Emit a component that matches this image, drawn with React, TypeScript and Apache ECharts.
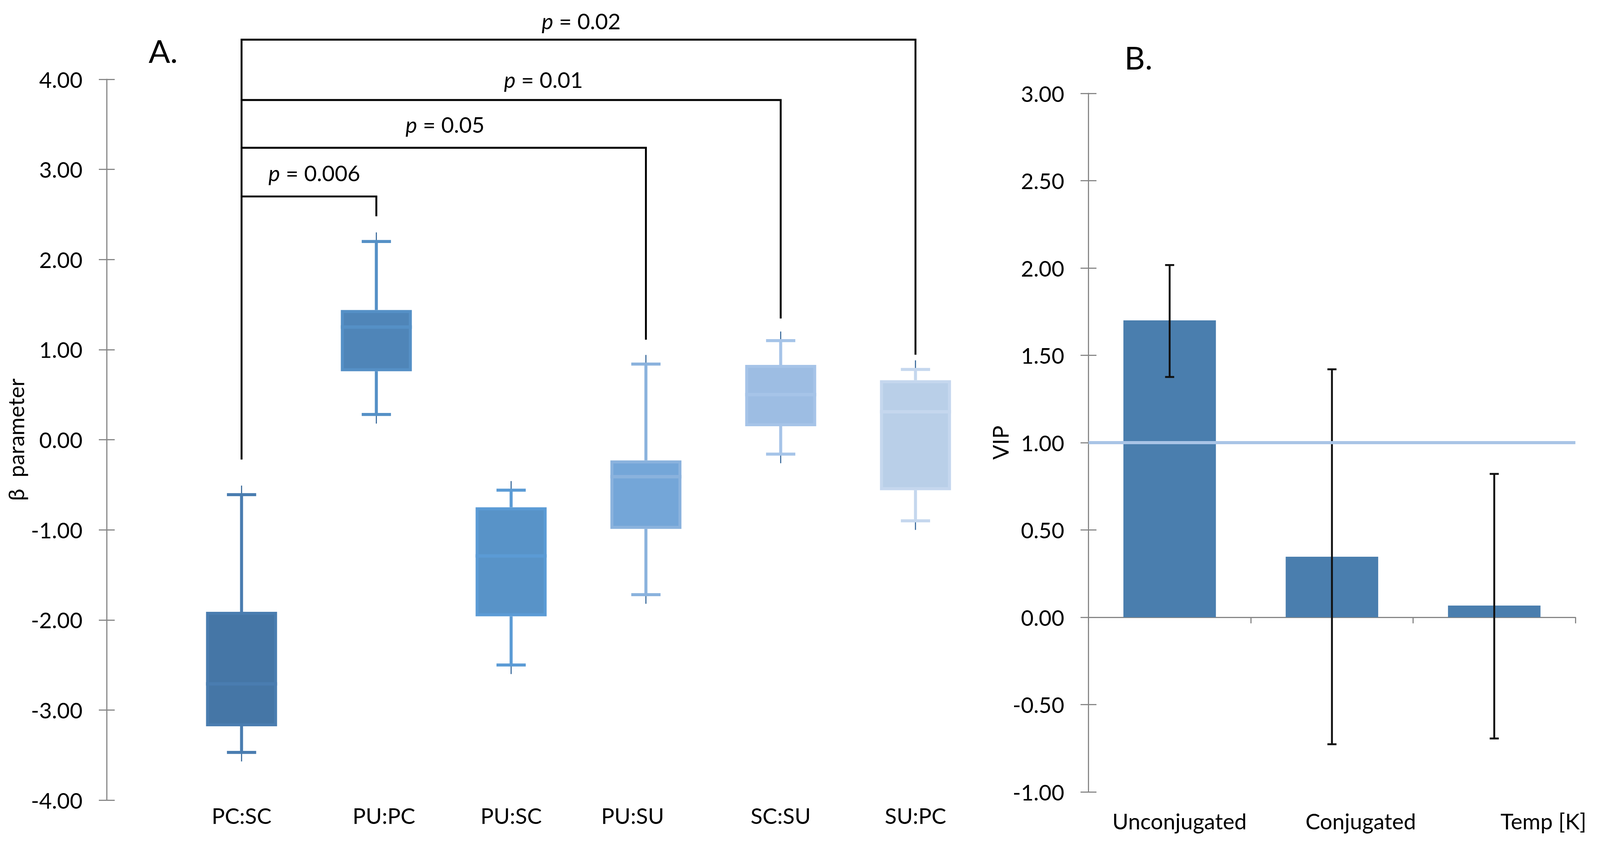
import React, { useEffect, useRef, useState } from "react";
import * as echarts from "echarts";

// ---------- Panel A data (β parameter box plots) ----------
const categoriesA = ["PC:SC", "PU:PC", "PU:SC", "PU:SU", "SC:SU", "SU:PC"];
const whiskerLow = [-3.47, 0.28, -2.5, -1.72, -0.16, -0.9];
const quartile1 = [-3.18, 0.76, -1.96, -0.99, 0.15, -0.56];
const medians = [-2.71, 1.25, -1.29, -0.41, 0.5, 0.31];
const quartile3 = [-1.91, 1.44, -0.75, -0.23, 0.83, 0.66];
const whiskerHigh = [-0.61, 2.2, -0.56, 0.84, 1.1, 0.78];
const boxFills = ["#4576A6", "#4F85B8", "#5893C8", "#74A6D8", "#9DBDE3", "#B9CFE8"];
const boxRims = ["#4A7DB0", "#5590C6", "#5B9BD5", "#8AB2DD", "#A6C4E8", "#C5D7EE"];
const yTicksA = { min: -4, max: 4, interval: 1 };

// significance brackets (all start at PC:SC)
const bracketFrom = 0;
const bracketTo = [1, 3, 4, 5];
const bracketHeight = [2.7, 3.24, 3.77, 4.44];
const bracketDrop = [2.48, 1.11, 1.345, 0.943];
const bracketLeftEnd = -0.22;
const pValues = ["0.006", "0.05", "0.01", "0.02"];
const pLabelPos = [0.54, 1.51, 2.24, 2.52];
const pLabelY = [2.96, 3.5, 4.0, 4.65];

// ---------- Panel B data (VIP bars) ----------
const categoriesB = ["Unconjugated", "Conjugated", "Temp [K]"];
const vipValues = [1.7, 0.347, 0.067];
const vipErrLow = [1.376, -0.727, -0.694];
const vipErrHigh = [2.017, 1.42, 0.821];
const vipThreshold = 1.0;
const yTicksB = { min: -1, max: 3, interval: 0.5 };

const FONT = "Lato";
const AXIS_GRAY = "#868686";
const REF_W = 4226;
const REF_H = 2168;

export default function App() {
  const ref = useRef<HTMLDivElement>(null);
  const [size] = useState(() => {
    document.body.style.margin = "0";
    document.body.style.overflow = "hidden";
    return { w: window.innerWidth || REF_W, h: window.innerHeight || REF_H };
  });

  useEffect(() => {
    const chart = echarts.init(ref.current!, undefined, { renderer: "svg" });
    const sx = size.w / REF_W;
    const sy = size.h / REF_H;
    const s = Math.min(sx, sy);
    const X = (v: number) => v * sx;
    const Y = (v: number) => v * sy;
    const S = (v: number) => v * s;

    const labelPadA: Record<string, number[]> = {
      "PU:PC": [0, 0, 0, S(40)],
      "PU:SU": [0, S(70), 0, 0],
    };
    const labelPadB = [
      [0, 0, 0, S(52)],
      [0, 0, 0, S(152)],
      [0, 0, 0, S(260)],
    ];

    const fontSize = S(58);
    const baseText = { fontFamily: FONT, fontSize, color: "#000" };

    const yAxisPair = (gi: number, t: any, offset: number, name: string) => [
      {
        type: "value",
        gridIndex: gi,
        position: "left",
        min: t.min,
        max: t.max,
        interval: t.interval,
        offset,
        axisLine: { show: true, lineStyle: { color: AXIS_GRAY, width: S(3) } },
        axisTick: { show: true, length: S(21), lineStyle: { color: AXIS_GRAY, width: S(3) } },
        splitLine: { show: false },
        axisLabel: {
          ...baseText,
          margin: S(64),
          formatter: (v: number) => v.toFixed(2),
        },
        name,
        nameLocation: "middle",
        nameGap: S(197),
        nameTextStyle: { ...baseText },
      },
      {
        type: "value",
        gridIndex: gi,
        position: "left",
        min: t.min,
        max: t.max,
        interval: t.interval,
        offset,
        axisLine: { show: false },
        axisTick: { show: true, inside: true, length: S(21), lineStyle: { color: AXIS_GRAY, width: S(3) } },
        splitLine: { show: false },
        axisLabel: { show: false },
      },
    ];

    const option: any = {
      animation: false,
      backgroundColor: "#ffffff",
      textStyle: { fontFamily: FONT },
      grid: [
        { left: X(460), top: Y(203), width: X(2136), height: Y(1845) },
        { left: X(2875), top: Y(239), width: X(1286), height: Y(1788) },
      ],
      xAxis: [
        {
          type: "category",
          gridIndex: 0,
          data: categoriesA.map((c) => ({
            value: c,
            textStyle: labelPadA[c] ? { padding: labelPadA[c] } : {},
          })),
          axisLine: { show: false, onZero: false },
          axisTick: { show: false },
          axisLabel: { ...baseText, margin: S(12), interval: 0 },
        },
        {
          type: "category",
          gridIndex: 1,
          data: categoriesB,
          axisLine: { show: true, onZero: true, lineStyle: { color: AXIS_GRAY, width: S(3) } },
          axisTick: { show: true, length: S(16), lineStyle: { color: AXIS_GRAY, width: S(3) } },
          axisLabel: { show: false },
        },
        {
          type: "category",
          gridIndex: 1,
          position: "bottom",
          data: categoriesB.map((c, i) => ({ value: c, textStyle: { padding: labelPadB[i] } })),
          axisLine: { show: false, onZero: false },
          axisTick: { show: false },
          axisLabel: { ...baseText, margin: S(48), interval: 0 },
        },
      ],
      yAxis: [
        ...yAxisPair(0, yTicksA, X(178), "β  parameter"),
        ...yAxisPair(1, yTicksB, 0, "VIP"),
      ],
      graphic: [
        {
          type: "text",
          x: X(431),
          y: Y(129),
          style: { text: "A.", font: `${S(84)}px ${FONT}`, fill: "#000", align: "center", verticalAlign: "middle" },
        },
        {
          type: "text",
          x: X(3007),
          y: Y(146),
          style: { text: "B.", font: `${S(84)}px ${FONT}`, fill: "#000", align: "center", verticalAlign: "middle" },
        },
      ],
      series: [
        {
          type: "custom",
          name: "boxes",
          xAxisIndex: 0,
          yAxisIndex: 0,
          data: categoriesA.map((_, i) => [
            i,
            whiskerLow[i],
            quartile1[i],
            medians[i],
            quartile3[i],
            whiskerHigh[i],
          ]),
          encode: { x: 0, y: [1, 2, 3, 4, 5] },
          renderItem: (params: any, api: any) => {
            const i = api.value(0);
            const x = api.coord([i, 0])[0];
            const yLo = api.coord([i, api.value(1)])[1];
            const yQ1 = api.coord([i, api.value(2)])[1];
            const yMed = api.coord([i, api.value(3)])[1];
            const yQ3 = api.coord([i, api.value(4)])[1];
            const yHi = api.coord([i, api.value(5)])[1];
            const band = api.size([1, 0])[0];
            const boxW = band * 0.527;
            const capW = band * 0.217;
            const fill = boxFills[i];
            const rim = boxRims[i];
            const dark = "#3F6E9E";
            const rimW = S(8);
            const line = (x1: number, y1: number, x2: number, y2: number, stroke: string, w: number) => ({
              type: "line",
              shape: { x1, y1, x2, y2 },
              style: { stroke, lineWidth: w },
            });
            return {
              type: "group",
              children: [
                line(x, yHi - S(24), x, yHi, dark, S(3)),
                line(x, yLo, x, yLo + S(24), dark, S(3)),
                line(x, yQ3, x, yHi, rim, rimW),
                line(x, yQ1, x, yLo, rim, rimW),
                line(x - capW / 2, yHi, x + capW / 2, yHi, rim, rimW),
                line(x - capW / 2, yLo, x + capW / 2, yLo, rim, rimW),
                {
                  type: "rect",
                  shape: {
                    x: x - boxW / 2 + rimW / 2,
                    y: yQ3 + rimW / 2,
                    width: boxW - rimW,
                    height: yQ1 - yQ3 - rimW,
                  },
                  style: { fill, stroke: rim, lineWidth: rimW },
                },
                line(x - boxW / 2, yMed, x + boxW / 2, yMed, rim, S(9)),
              ],
            };
          },
        },
        {
          type: "custom",
          name: "brackets",
          xAxisIndex: 0,
          yAxisIndex: 0,
          clip: false,
          data: bracketTo.map((to, k) => [to, bracketHeight[k], bracketDrop[k], pLabelPos[k], pLabelY[k], k]),
          encode: { x: 0, y: 1 },
          renderItem: (params: any, api: any) => {
            const to = api.value(0);
            const k = api.value(5);
            const x0 = api.coord([bracketFrom, 0])[0];
            const x1 = api.coord([to, 0])[0];
            const step = api.coord([1, 0])[0] - x0;
            const yH = api.coord([to, api.value(1)])[1];
            const yD = api.coord([to, api.value(2)])[1];
            const lx = x0 + api.value(3) * step;
            const ly = api.coord([to, api.value(4)])[1];
            const lw = S(5);
            const children: any[] = [
              { type: "line", shape: { x1: x0 - lw / 2, y1: yH, x2: x1 + lw / 2, y2: yH }, style: { stroke: "#000", lineWidth: lw } },
              { type: "line", shape: { x1: x1, y1: yH, x2: x1, y2: yD }, style: { stroke: "#000", lineWidth: lw } },
              {
                type: "text",
                x: lx,
                y: ly,
                style: {
                  text: "{i|p} = " + pValues[k],
                  rich: { i: { fontStyle: "italic", fontFamily: FONT, fontSize, fill: "#000" } },
                  fontFamily: FONT,
                  fontSize,
                  fill: "#000",
                  align: "center",
                  verticalAlign: "middle",
                },
              },
            ];
            if (k === bracketTo.length - 1) {
              const yL = api.coord([bracketFrom, bracketLeftEnd])[1];
              children.push({
                type: "line",
                shape: { x1: x0, y1: yH - lw / 2, x2: x0, y2: yL },
                style: { stroke: "#000", lineWidth: lw },
              });
            }
            return { type: "group", children };
          },
        },
        {
          type: "bar",
          name: "VIP",
          xAxisIndex: 1,
          yAxisIndex: 2,
          data: vipValues,
          barWidth: "57%",
          itemStyle: { color: "#4A7EAE" },
          markLine: {
            silent: true,
            symbol: "none",
            label: { show: false },
            lineStyle: { color: "#A9C4E6", width: S(8), type: "solid" },
            data: [{ yAxis: vipThreshold }],
          },
        },
        {
          type: "custom",
          name: "errors",
          xAxisIndex: 1,
          yAxisIndex: 2,
          z: 3,
          data: categoriesB.map((_, i) => [i, vipErrLow[i], vipErrHigh[i]]),
          encode: { x: 0, y: [1, 2] },
          renderItem: (params: any, api: any) => {
            const i = api.value(0);
            const x = api.coord([i, 0])[0];
            const yLo = api.coord([i, api.value(1)])[1];
            const yHi = api.coord([i, api.value(2)])[1];
            const cw = S(12);
            const st = { stroke: "#111", lineWidth: S(5) };
            return {
              type: "group",
              children: [
                { type: "line", shape: { x1: x, y1: yHi, x2: x, y2: yLo }, style: st },
                { type: "line", shape: { x1: x - cw, y1: yHi, x2: x + cw, y2: yHi }, style: st },
                { type: "line", shape: { x1: x - cw, y1: yLo, x2: x + cw, y2: yLo }, style: st },
              ],
            };
          },
        },
      ],
    };

    chart.setOption(option);
    return () => chart.dispose();
  }, [size]);

  return <div ref={ref} style={{ width: size.w, height: size.h }} />;
}
